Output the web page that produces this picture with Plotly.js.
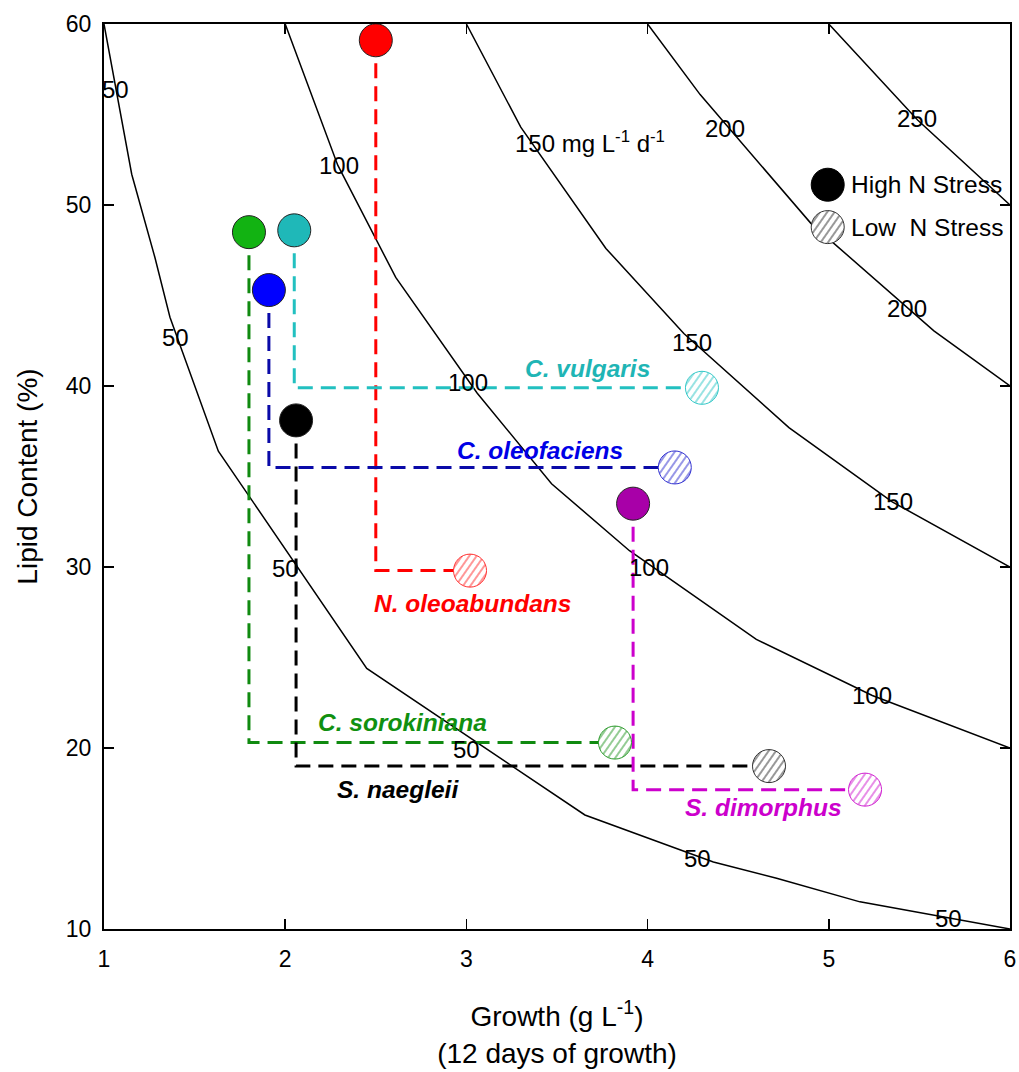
<!DOCTYPE html>
<html><head><meta charset="utf-8">
<script src="https://cdn.plot.ly/plotly-3.0.1.min.js"></script>
<style>html,body{margin:0;padding:0;background:#fff}</style>
</head><body><div id="chart" style="width:1019px;height:1072px"></div>
<script>
// ---- data ----
const species = ['N. oleoabundans','C. sorokiniana','C. vulgaris','C. oleofaciens','S. naegleii','S. dimorphus'];
const highGrowth = [2.5, 1.8, 2.05, 1.91, 2.06, 3.92];
const highLipid  = [59.1, 48.5, 48.6, 45.3, 38.1, 33.5];
const lowGrowth  = [3.02, 3.82, 4.3, 4.15, 4.67, 5.2];
const lowLipid   = [29.8, 20.3, 39.9, 35.5, 19.0, 17.7];

// productivity iso-lines (mg L-1 d-1), vertices
const c50x  = [1, 1.153, 1.281, 1.364, 1.631, 2.45, 3.654, 4.363, 4.712, 5.172, 6];
const c50y  = [60, 51.7, 47.1, 43.8, 36.4, 24.4, 16.3, 13.7, 12.8, 11.5, 10];
const c100x = [2, 2.29, 2.61, 3.06, 3.47, 3.9, 4.6, 5.24, 6];
const c100y = [60, 52.2, 46.0, 39.6, 34.6, 30.9, 26.0, 22.9, 20];
const c150x = [3, 3.3, 3.77, 4.2, 4.78, 5.35, 6];
const c150y = [60, 54.3, 47.6, 42.9, 37.7, 33.6, 30];
const c200x = [4, 4.29, 4.9, 5.58, 6];
const c200y = [60, 56.1, 49.0, 43.05, 40];
const c250x = [5, 5.49, 6];
const c250y = [60, 54.7, 50];

const xTicks = [1, 2, 3, 4, 5, 6];
const yTicks = [10, 20, 30, 40, 50, 60];

// contour labels
const cLabText = ['50','50','50','50','50','50','100','100','100','100','150','150','200','200','250'];
const cLabX = [1.066, 1.397, 2.004, 2.998, 4.278, 5.658, 2.297, 3.009, 4.008, 5.238, 4.245, 5.354, 4.427, 5.432, 5.487];
const cLabY = [56.4, 42.7, 29.9, 19.9, 13.9, 10.6, 52.2, 40.2, 30.0, 22.9, 42.4, 33.6, 54.25, 44.3, 54.8];

// ---- styles ----
const FONT = 'Arial, "Liberation Sans", sans-serif';
const markerFill = ['#ff0000', '#12b312', '#1fb8b8', '#0000ff', '#000000', '#a800a8'];
const lineCol    = ['#ff0000', '#108a10', '#22c0c0', '#0a0aa8', '#000000', '#cc00cc'];
const textCol    = ['#ff0000', '#109010', '#1fb5b5', '#0000e6', '#000000', '#cc00cc'];
const hatchCol   = ['#ff3030', '#2a9a2a', '#33c8c8', '#3030d0', '#333333', '#d020d0'];
const labelX = [3.036, 2.645, 3.666, 3.406, 2.623, 4.642];
const labelY = [28.0, 21.4, 40.94, 36.46, 17.7, 16.7];

const traces = [];
[[c50x,c50y],[c100x,c100y],[c150x,c150y],[c200x,c200y],[c250x,c250y]].forEach(([xs,ys])=>{
  traces.push({x:xs, y:ys, mode:'lines', line:{color:'#000', width:1.5}, showlegend:false, hoverinfo:'skip'});
});
species.forEach((s,i)=>{
  traces.push({x:[highGrowth[i], highGrowth[i], lowGrowth[i]], y:[highLipid[i], lowLipid[i], lowLipid[i]],
    mode:'lines', line:{color:lineCol[i], width:3, dash:'15px,8px'}, showlegend:false, hoverinfo:'skip'});
});
const hatchTraceIndex = traces.length;
traces.push({x:lowGrowth, y:lowLipid, mode:'markers', showlegend:false,
  marker:{size:33, color:'#ffffff', line:{color:hatchCol, width:1}}});
traces.push({x:highGrowth, y:highLipid, mode:'markers', showlegend:false,
  marker:{size:33, color:markerFill, line:{color:'#222', width:1}}});
// legend keys
const legendKeyX = 4.994, legendHighY = 51.12, legendLowY = 48.78, legendTextX = 5.111;
traces.push({x:[legendKeyX], y:[legendHighY], mode:'markers', showlegend:false,
  marker:{size:33, color:'#000', line:{color:'#000', width:1}}});
const legendHatchIndex = traces.length;
traces.push({x:[legendKeyX], y:[legendLowY], mode:'markers', showlegend:false,
  marker:{size:33, color:'#fff', line:{color:'#333', width:1}}});

const annotations = [];
cLabText.forEach((t,i)=>annotations.push({x:cLabX[i], y:cLabY[i], text:t, showarrow:false,
  font:{family:FONT, size:24, color:'#000'}}));
annotations.push({x:3.257, y:53.5, xanchor:'left', text:'150 mg L<sup>-1</sup> d<sup>-1</sup>', showarrow:false,
  font:{family:FONT, size:24, color:'#000'}});
species.forEach((s,i)=>annotations.push({x:labelX[i], y:labelY[i], text:'<b><i>'+s+'</i></b>', showarrow:false,
  font:{family:FONT, size:24.5, color:textCol[i]}}));
annotations.push({x:legendTextX, y:legendHighY, xanchor:'left', text:'High N Stress', showarrow:false,
  font:{family:FONT, size:24.5, color:'#000'}});
annotations.push({x:legendTextX, y:legendLowY, xanchor:'left', text:'Low\u00a0 N Stress', showarrow:false,
  font:{family:FONT, size:24.5, color:'#000'}});

const axisCommon = {showgrid:false, zeroline:false, showline:true, linecolor:'#000', linewidth:2,
  ticks:'inside', ticklen:10, tickwidth:1.5, tickcolor:'#000', mirror:'ticks',
  tickfont:{family:FONT, size:23, color:'#000'}};

const layout = {
  width:1019, height:1072, paper_bgcolor:'#fff', plot_bgcolor:'#fff',
  margin:{l:104, r:9, t:24, b:143},
  hovermode:false,
  xaxis:Object.assign({}, axisCommon, {range:[1,6], tickvals:xTicks, ticklabelstandoff:8,
    title:{text:'Growth (g L<sup>-1</sup>)<br>(12 days of growth)', font:{family:FONT, size:28, color:'#000'}, standoff:36}}),
  yaxis:Object.assign({}, axisCommon, {range:[10,60], tickvals:yTicks, ticklabelstandoff:6,
    title:{text:'Lipid Content (%)', font:{family:FONT, size:28, color:'#000'}, standoff:20}}),
  annotations:annotations
};

function addHatch(gd){
  const svg = gd.querySelector('.main-svg');
  const NS = 'http://www.w3.org/2000/svg';
  let defs = svg.querySelector('defs');
  if(!defs){ defs = document.createElementNS(NS,'defs'); svg.insertBefore(defs, svg.firstChild); }
  function mk(id, col){
    const p = document.createElementNS(NS,'pattern');
    p.setAttribute('id', id); p.setAttribute('patternUnits','userSpaceOnUse');
    p.setAttribute('width','6'); p.setAttribute('height','6');
    p.setAttribute('patternTransform','rotate(-55)');
    const r = document.createElementNS(NS,'rect');
    r.setAttribute('width','6'); r.setAttribute('height','6'); r.setAttribute('fill','#fff');
    const l = document.createElementNS(NS,'line');
    l.setAttribute('x1','0'); l.setAttribute('y1','3'); l.setAttribute('x2','6'); l.setAttribute('y2','3');
    l.setAttribute('stroke', col); l.setAttribute('stroke-width','1');
    p.appendChild(r); p.appendChild(l); defs.appendChild(p);
  }
  hatchCol.forEach((c,i)=>mk('hatch'+i, c));
  mk('hatchLegend', '#333');
  const traceEls = gd.querySelectorAll('.scatterlayer .trace');
  const pts = traceEls[hatchTraceIndex].querySelectorAll('path.point');
  pts.forEach((p,i)=>{ p.style.fill = 'url(#hatch'+i+')'; });
  traceEls[legendHatchIndex].querySelectorAll('path.point').forEach(p=>{ p.style.fill='url(#hatchLegend)'; });
}

Plotly.newPlot('chart', traces, layout, {staticPlot:true, displayModeBar:false}).then(addHatch);
</script></body></html>
